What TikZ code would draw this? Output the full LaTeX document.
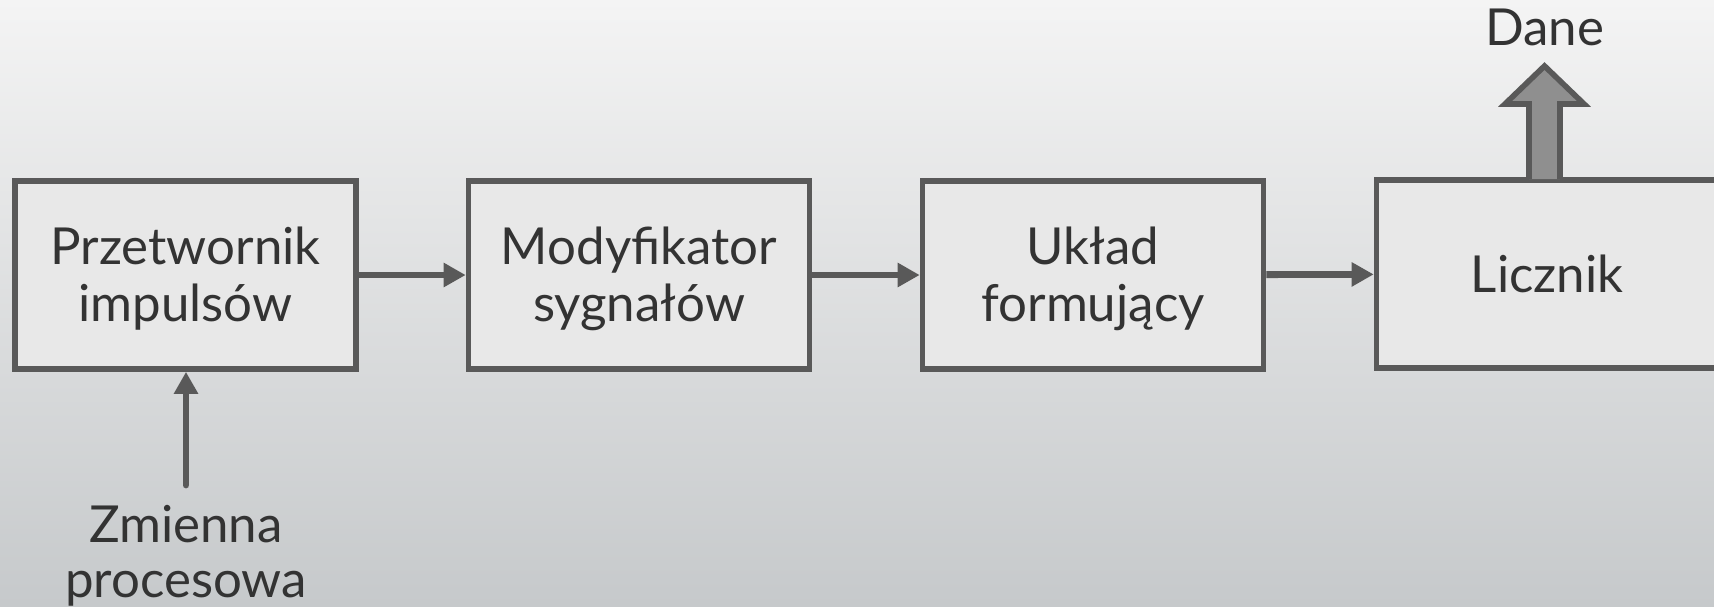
\documentclass[tikz,border=0pt]{standalone}
\usepackage{fontspec}
\setmainfont{Lato}
\usetikzlibrary{arrows.meta,calc}
\definecolor{edge}{HTML}{595959}
\definecolor{boxfill}{HTML}{E8E8E8}
\definecolor{txt}{HTML}{333333}
\definecolor{bgtop}{HTML}{F4F4F4}
\definecolor{bgbot}{HTML}{C6C9CB}
\definecolor{fatfill}{HTML}{8F8F8F}
\newcommand{\twolines}[2]{\raisebox{-3.5pt}[\height][\depth]{\begin{tabular}{@{}c@{}}#1\\#2\end{tabular}}}
\begin{document}
\begin{tikzpicture}[x=0.5pt,y=-0.5pt,
  blockbox/.style={draw=edge,fill=boxfill,line width=2.8pt,minimum width=170.5pt,minimum height=94pt,
    inner sep=0pt,align=center,text=txt,font=\fontsize{25.5}{28.5}\selectfont},
  lbl/.style={align=center,text=txt,font=\fontsize{25.5}{27.5}\selectfont,inner sep=0pt},
  conn/.style={draw=edge,line width=3.4pt,-{Triangle[length=11pt,width=11.5pt]}}]
\shade[top color=bgtop,bottom color=bgbot] (0,0) rectangle (1714,606);
\useasboundingbox (0,0) rectangle (1714,606);
\node[blockbox] (p) at (185.5,275) {\twolines{Przetwornik}{impulsów}};
\node[blockbox] (m) at (639,275) {\twolines{Modyfikator}{sygnałów}};
\node[blockbox] (u) at (1093,275) {\twolines{Układ}{formujący}};
\node[blockbox] (l) at (1547,274) {Licznik};
\node[lbl] (z) at (186,556) {Zmienna\\procesowa};
\node[lbl] (d) at (1544.5,27) {Dane};
\coordinate (zin) at (186,485);
\draw[conn] (p) -- (m);
\draw[conn] (m) -- (u);
\draw[conn] (u) -- (l);
\draw[conn,line cap=round] (zin) -- (p.south -| zin);
\coordinate (fb) at (1544.5,179);
\draw[draw=edge,fill=fatfill,line width=2.8pt,line join=miter]
  ($(fb)+(-15.5,0)$) -- ($(fb)+(-15.5,-75)$) -- ($(fb)+(-39.5,-75)$) -- ($(fb)+(0,-113)$)
  -- ($(fb)+(39.5,-75)$) -- ($(fb)+(15.5,-75)$) -- ($(fb)+(15.5,0)$);
\end{tikzpicture}
\end{document}
